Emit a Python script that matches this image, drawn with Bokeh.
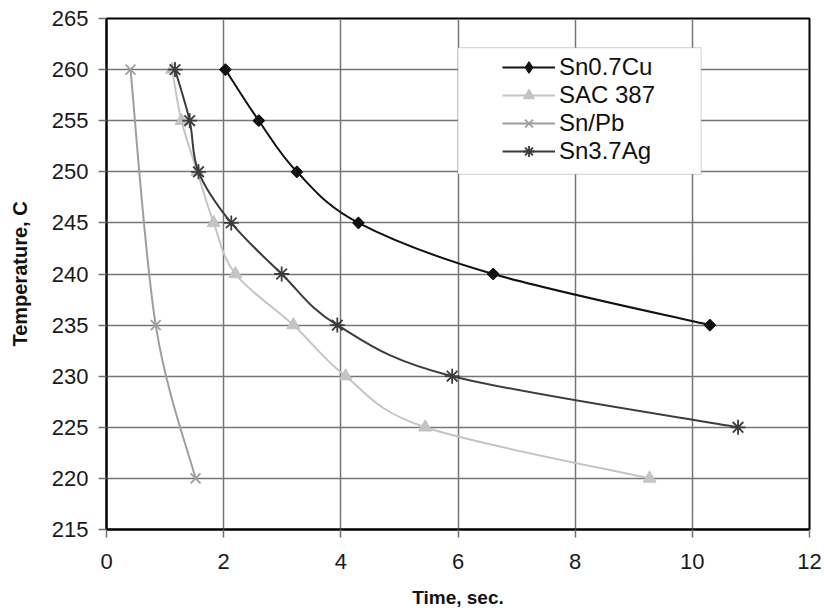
import numpy as np
from bokeh.plotting import figure
from bokeh.models import (ColumnDataSource, Legend, LegendItem, BoxAnnotation,
                          FixedTicker, Range1d)
from bokeh.embed import file_html
from bokeh.resources import INLINE

# ---- data ----
cu_time = [2.03, 2.60, 3.25, 4.30, 6.60, 10.30]
cu_temp = [260, 255, 250, 245, 240, 235]

sac_time = [1.12, 1.28, 1.55, 1.83, 2.20, 3.19, 4.08, 5.44, 9.27]
sac_temp = [260, 255, 250, 245, 240, 235, 230, 225, 220]

snpb_time = [0.41, 0.84, 1.52]
snpb_temp = [260, 235, 220]

ag_time = [1.17, 1.42, 1.57, 2.13, 2.99, 3.94, 5.90, 10.78]
ag_temp = [260, 255, 250, 245, 240, 235, 230, 225]

series_names = ["Sn0.7Cu", "SAC 387", "Sn/Pb", "Sn3.7Ag"]
x_ticks = [0, 2, 4, 6, 8, 10, 12]
y_ticks = [215, 220, 225, 230, 235, 240, 245, 250, 255, 260, 265]

FONT = "Liberation Sans"

p = figure(width=824, height=613, output_backend="svg", toolbar_location=None,
           x_range=Range1d(0, 12), y_range=Range1d(215, 265))
p.min_border_left = 106
p.min_border_right = 15
p.min_border_top = 18
p.min_border_bottom = 84
p.background_fill_color = "white"
p.border_fill_color = "white"
p.outline_line_color = "black"
p.outline_line_width = 2

# axes
for ax, ticks in ((p.xaxis, x_ticks), (p.yaxis, y_ticks)):
    ax.ticker = FixedTicker(ticks=ticks)
    ax.axis_line_color = "black"
    ax.axis_line_width = 2
    ax.major_tick_line_color = "#707070"
    ax.major_tick_line_width = 1.5
    ax.major_tick_in = 0
    ax.major_tick_out = 8
    ax.minor_tick_line_color = None
    ax.major_label_text_font = FONT
    ax.major_label_text_font_size = "22px"
    ax.major_label_text_color = "#1a1a1a"
    ax.axis_label_text_font = FONT
    ax.axis_label_text_font_style = "bold"
    ax.axis_label_text_color = "#111111"

p.xaxis.axis_label = "Time, sec."
p.yaxis.axis_label = "Temperature, C"
p.xaxis.axis_label_text_font_size = "19px"
p.yaxis.axis_label_text_font_size = "20px"
p.xaxis.major_label_standoff = 16
p.yaxis.major_label_standoff = 10
p.xaxis.axis_label_standoff = 15
p.yaxis.axis_label_standoff = 18

p.xgrid.ticker = FixedTicker(ticks=x_ticks)
p.ygrid.ticker = FixedTicker(ticks=y_ticks)
for g in (p.xgrid, p.ygrid):
    g.grid_line_color = "#767676"
    g.grid_line_width = 1.5


def smooth_segments(xs, ys):
    """Catmull-Rom style Bezier control points (Excel-like smoothed line)."""
    x = np.asarray(xs, float)
    y = np.asarray(ys, float)
    n = len(x)
    xp = np.concatenate([[x[0]], x, [x[-1]]])
    yp = np.concatenate([[y[0]], y, [y[-1]]])
    d = dict(x0=[], y0=[], x1=[], y1=[], cx0=[], cy0=[], cx1=[], cy1=[])
    for i in range(n - 1):
        j = i + 1
        d["x0"].append(x[i]); d["y0"].append(y[i])
        d["x1"].append(x[i + 1]); d["y1"].append(y[i + 1])
        d["cx0"].append(x[i] + (xp[j + 1] - xp[j - 1]) / 6.0)
        d["cy0"].append(y[i] + (yp[j + 1] - yp[j - 1]) / 6.0)
        d["cx1"].append(x[i + 1] - (xp[j + 2] - xp[j]) / 6.0)
        d["cy1"].append(y[i + 1] - (yp[j + 2] - yp[j]) / 6.0)
    return ColumnDataSource(d)


styles = [
    dict(color="#111111", marker="square", size=8, angle=np.pi / 4,
         leg_marker="diamond", leg_size=14, fill=True, lw=1.2),
    dict(color="#c4c4c4", marker="triangle", size=13, angle=0.0,
         leg_marker="triangle", leg_size=13, fill=True, lw=1),
    dict(color="#9e9e9e", marker="x", size=14, angle=0.0,
         leg_marker="x", leg_size=14, fill=False, lw=1.8),
    dict(color="#3c3c3c", marker="asterisk", size=15, angle=0.0,
         leg_marker="asterisk", leg_size=15, fill=False, lw=1.8),
]
all_data = [(cu_time, cu_temp), (sac_time, sac_temp),
            (snpb_time, snpb_temp), (ag_time, ag_temp)]

items = []
for name, (xs, ys), st in zip(series_names, all_data, styles):
    fill = st["color"] if st["fill"] else None
    p.bezier(x0="x0", y0="y0", x1="x1", y1="y1", cx0="cx0", cy0="cy0",
             cx1="cx1", cy1="cy1", source=smooth_segments(xs, ys),
             line_color=st["color"], line_width=2)
    p.scatter(x=xs, y=ys, marker=st["marker"], size=st["size"],
              angle=st["angle"], line_color=st["color"], fill_color=fill,
              line_width=st["lw"])
    # legend-only samples (a single NaN point draws nothing in the plot)
    leg_line = p.line(x=[np.nan], y=[np.nan], line_color=st["color"], line_width=2)
    leg_mark = p.scatter(x=[np.nan], y=[np.nan], marker=st["leg_marker"],
                         size=st["leg_size"], line_color=st["color"],
                         fill_color=fill, line_width=st["lw"])
    items.append(LegendItem(label=name, renderers=[leg_line, leg_mark]))

# legend frame
box = BoxAnnotation(left=6.0, right=10.15, top=262.15, bottom=249.75,
                    fill_color="white", fill_alpha=1.0,
                    line_color="#808080", line_width=1.2)
p.add_layout(box)

legend = Legend(items=items, location=(396, 364), orientation="vertical")
legend.padding = 0
legend.margin = 0
legend.spacing = 0
legend.label_height = 28
legend.glyph_height = 28
legend.glyph_width = 53
legend.label_standoff = 4
legend.label_text_font = FONT
legend.label_text_font_size = "24px"
legend.label_text_color = "#111111"
legend.border_line_color = None
legend.background_fill_alpha = 0
p.add_layout(legend)

open("out.html", "w").write(file_html(p, INLINE))
